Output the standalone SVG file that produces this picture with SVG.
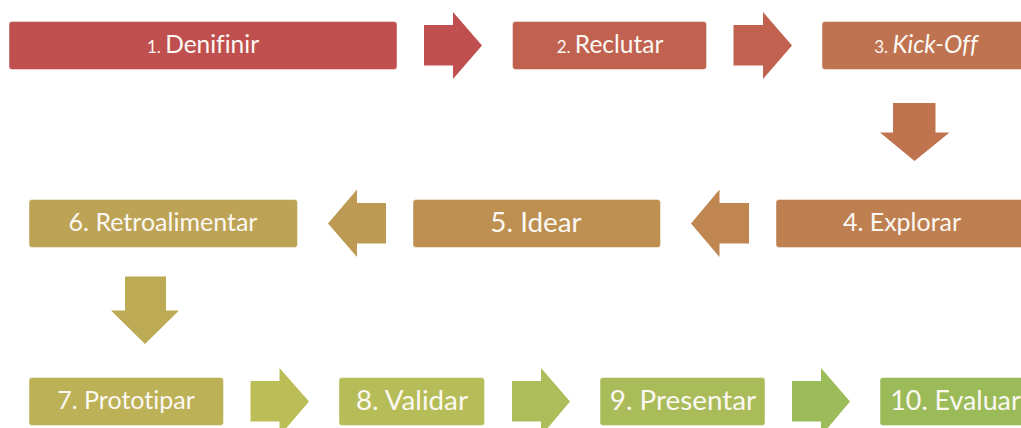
<svg xmlns="http://www.w3.org/2000/svg" width="1021" height="428" viewBox="0 0 1021 428">
<style>
text{font-family:"Lato","Open Sans","Liberation Sans",sans-serif;fill:#fbf8f3;text-anchor:middle;font-variant-ligatures:none}
.box{stroke-width:1;stroke-opacity:.45;stroke:#fff}
.l{font-size:24.500px}.m{font-size:25px}.b{font-size:27.800px}.s{font-size:17px}
</style>
<rect width="1021" height="428" fill="#fff"/>
<g id="connectors">
<polygon fill="#c0504f" points="424,25 453,25 453,12 482,45.500 453,79 453,65.500 424,65.500"/>
<polygon fill="#c0624f" points="733.500,25 763,25 763,12 792,45.500 763,79 763,65.500 733.500,65.500"/>
<polygon fill="#bf744f" points="893,103 935.500,103 935.500,132.500 949.500,132.500 914.500,161 880,132.500 893,132.500"/>
<polygon fill="#bf8651" points="749,203 719.500,203 719.500,189.500 691,223.500 719.500,257 719.500,243.500 749,243.500"/>
<polygon fill="#bd9a53" points="386,203 357,203 357,189.500 328,223.500 357,257 357,243.500 386,243.500"/>
<polygon fill="#bdaa55" points="125,276.500 166,276.500 166,310.500 179,310.500 145,344 111,310.500 125,310.500"/>
<polygon fill="#bbbd56" points="250.500,381 279.500,381 279.500,368 309,401.500 279.500,436 279.500,421.500 250.500,421.500"/>
<polygon fill="#adbd59" points="512,381 541,381 541,368 570,401.500 541,436 541,421.500 512,421.500"/>
<polygon fill="#9cbb59" points="792,381 821,381 821,368 850,401.500 821,436 821,421.500 792,421.500"/>
</g>
<g id="n1"><rect class="box" x="9" y="21.500" width="388" height="48" rx="3" fill="#c0504f"/><text x="203" y="53" class="l"><tspan class="s">1. </tspan>Denifinir</text></g>
<g id="n2"><rect class="box" x="512.500" y="21.500" width="194" height="48" rx="3" fill="#c0624f"/><text x="610" y="53" class="l"><tspan class="s">2. </tspan>Reclutar</text></g>
<g id="n3"><rect class="box" x="822" y="21.500" width="210" height="48" rx="3" fill="#bf7350"/><text x="926" y="53" class="l"><tspan class="s">3. </tspan><tspan font-style="italic">Kick-Off</tspan></text></g>
<g id="n4"><rect class="box" x="776" y="199.500" width="256" height="48" rx="3" fill="#bf8051"/><text x="902" y="231" class="m">4. Explorar</text></g>
<g id="n5"><rect class="box" x="413" y="199.500" width="247.500" height="48" rx="3" fill="#bd9051"/><text x="536" y="232" class="b">5. Idear</text></g>
<g id="n6"><rect class="box" x="29" y="199.500" width="268.500" height="48" rx="3" fill="#bda355"/><text x="163" y="231" class="m">6. Retroalimentar</text></g>
<g id="n7"><rect class="box" x="29" y="377.500" width="194.500" height="48" rx="3" fill="#bdb157"/><text x="126" y="409" class="m">7. Prototipar</text></g>
<g id="n8"><rect class="box" x="339" y="377.500" width="145.500" height="48" rx="3" fill="#b6bd58"/><text x="412" y="410" class="b">8. Validar</text></g>
<g id="n9"><rect class="box" x="600" y="377.500" width="165" height="48" rx="3" fill="#a9bc59"/><text x="683" y="410" class="b">9. Presentar</text></g>
<g id="n10"><rect class="box" x="880" y="377.500" width="152" height="48" rx="3" fill="#9bbb59"/><text x="955.500" y="410" class="b" style="font-size:26.800px">10. Evaluar</text></g>
</svg>
